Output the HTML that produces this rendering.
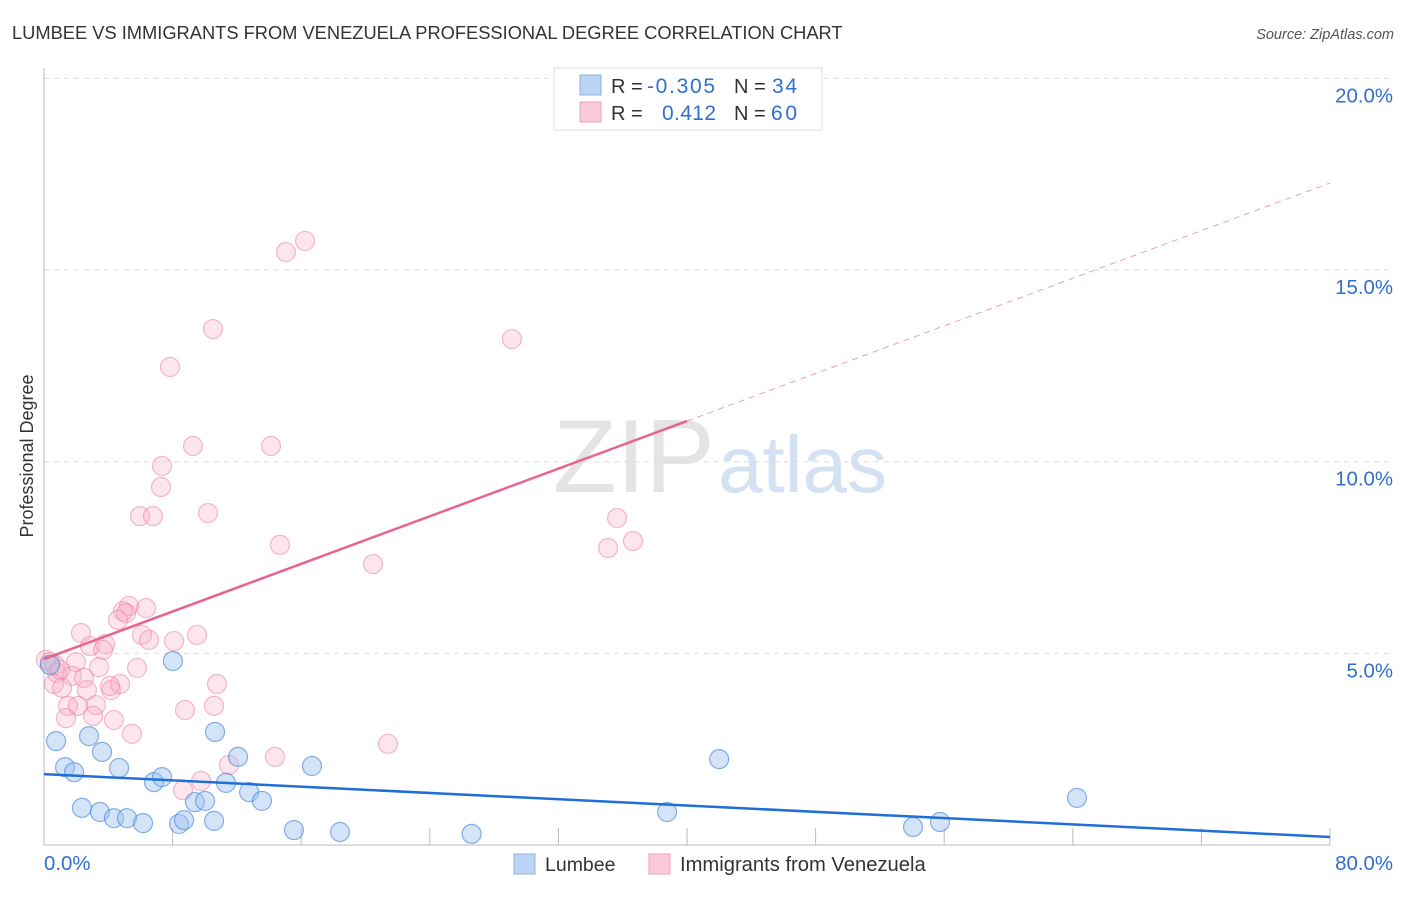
<!DOCTYPE html>
<html><head><meta charset="utf-8"><style>
body{margin:0;background:#fff;font-family:"Liberation Sans",sans-serif}
svg text{font-family:"Liberation Sans",sans-serif}
</style></head><body>
<svg id="chart" width="1406" height="892" xmlns="http://www.w3.org/2000/svg">
<text x="12" y="39" font-size="18.3" fill="#333">LUMBEE VS IMMIGRANTS FROM VENEZUELA PROFESSIONAL DEGREE CORRELATION CHART</text>
<text x="1394" y="39" font-size="14.5" fill="#555" text-anchor="end" font-style="italic">Source: ZipAtlas.com</text>
<text x="553" y="492" font-size="104" fill="#e4e4e4" font-family="Liberation Serif">ZIP</text>
<text x="718" y="492" font-size="80" fill="#d3e1f3">atlas</text>
<g id="grid"></g>
<g id="axes"></g>
<g id="marks"></g>
<text transform="translate(33,456) rotate(-90)" font-size="18" fill="#333" text-anchor="middle">Professional Degree</text>
<g>
<rect x="554" y="68" width="268" height="62" fill="#fff" stroke="#ddd"/>
<rect x="580" y="75" width="21" height="20" fill="#bcd4f3" stroke="#8ab0e6"/>
<rect x="580" y="102" width="21" height="20" fill="#fbcad8" stroke="#f0a2b8"/>
<text x="611" y="93" font-size="20" fill="#333">R =</text>
<text x="647" y="93" font-size="21" fill="#2f6fce" textLength="68">-0.305</text>
<text x="734" y="93" font-size="20" fill="#333">N =</text>
<text x="772" y="93" font-size="21" fill="#2f6fce" textLength="25">34</text>
<text x="611" y="120" font-size="20" fill="#333">R =</text>
<text x="662" y="120" font-size="21" fill="#2f6fce" textLength="54">0.412</text>
<text x="734" y="120" font-size="20" fill="#333">N =</text>
<text x="771" y="120" font-size="21" fill="#2f6fce" textLength="26">60</text>
</g>
<g>
<rect x="514" y="854" width="21" height="20" fill="#bcd4f3" stroke="#8ab0e6"/>
<text x="545" y="871" font-size="19.5" fill="#333">Lumbee</text>
<rect x="649" y="854" width="21" height="20" fill="#fbcad8" stroke="#f0a2b8"/>
<text x="680" y="871" font-size="20.2" fill="#333">Immigrants from Venezuela</text>
</g>
</svg>
<script>
const xTicks=[0,80];
const xTickLabels=["0.0%","80.0%"];
const yTicks=[5,10,15,20];
const yTickLabels=["5.0%","10.0%","15.0%","20.0%"];
const lumbeeX=[0.75,1.31,1.87,2.8,3.61,4.67,2.36,3.48,4.35,5.16,6.16,6.84,7.34,8.02,8.4,8.71,9.39,10.02,10.58,10.64,11.32,12.07,12.76,13.56,15.55,16.67,18.41,26.6,38.76,42.0,54.06,55.74,64.26,0.37];
const lumbeeY=[2.71,2.03,1.9,2.84,2.43,2.01,0.97,0.86,0.7,0.7,0.57,1.64,1.77,4.8,0.55,0.65,1.12,1.15,0.63,2.95,1.62,2.3,1.38,1.15,0.39,2.06,0.34,0.29,0.86,2.24,0.47,0.6,1.23,4.7];
const venX=[16.24,15.05,10.51,29.11,7.84,9.27,14.12,7.34,7.28,5.97,6.78,10.2,35.65,14.68,35.09,36.64,20.47,5.29,6.35,4.91,5.1,4.6,2.3,6.1,6.53,8.09,9.52,2.86,3.8,3.67,0.12,0.37,0.68,0.81,1.99,3.42,5.79,1.0,1.74,2.49,0.62,1.12,2.67,4.17,4.73,4.1,10.76,1.49,3.23,2.11,1.37,3.05,4.35,8.77,10.58,5.47,21.4,14.37,11.51,9.77,8.65];
const venY=[15.76,15.47,13.46,13.2,12.47,10.41,10.41,9.89,9.34,8.58,8.58,8.66,8.53,7.83,7.75,7.93,7.33,6.24,6.18,6.1,6.05,5.87,5.53,5.48,5.35,5.32,5.48,5.19,5.24,5.09,4.83,4.77,4.7,4.49,4.77,4.64,4.62,4.57,4.41,4.36,4.2,4.1,4.04,4.04,4.2,4.15,4.2,3.63,3.65,3.63,3.31,3.37,3.26,3.52,3.63,2.9,2.64,2.3,2.09,1.67,1.43];
const lumbeeTrend=[1.85,0.21];
const venTrend=[4.85,17.27];
const venSolidEnd=40;

const X0=44,X1=1330,Y0=845,PPY=38.33;
const sx=v=>X0+(v-xTicks[0])/(xTicks[1]-xTicks[0])*(X1-X0);
const sy=v=>Y0-v*PPY;
const NS="http://www.w3.org/2000/svg";
function mk(tag,attrs,parent){const e=document.createElementNS(NS,tag);for(const k in attrs)e.setAttribute(k,attrs[k]);parent.appendChild(e);return e;}
const grid=document.getElementById('grid'),axes=document.getElementById('axes'),marks=document.getElementById('marks');
yTicks.forEach((t,i)=>{
 const l=mk('line',{x1:X0,x2:1394,y1:sy(t),y2:sy(t),stroke:'#ddd','stroke-dasharray':'5,5'},grid);
 
 
 const tx=mk('text',{x:1393,y:sy(t)+24,'font-size':20.4,fill:'#2f6fce','text-anchor':'end'},axes);
 tx.textContent=yTickLabels[i];
 
 
});
const al=mk('line',{x1:X0,x2:X0,y1:68,y2:Y0,stroke:'#bbb'},axes);


const bl=mk('line',{x1:X0,x2:X1,y1:Y0,y2:Y0,stroke:'#bbb'},axes);


for(let k=1;k<=10;k++){const v=k*8;const t=mk('line',{x1:sx(v),x2:sx(v),y1:828,y2:Y0,stroke:'#bbb'},axes);
 
 }
xTicks.forEach((t,i)=>{const tx=mk('text',{x:i==0?44:1393,y:870,'font-size':20.4,fill:'#2f6fce','text-anchor':i==0?'start':'end'},axes);
 tx.textContent=xTickLabels[i];
 
 });
venX.forEach((x,i)=>{const c=mk('circle',{cx:sx(x),cy:sy(venY[i]),r:9.5,fill:'rgba(248,170,195,0.3)',stroke:'rgba(235,130,165,0.55)','stroke-width':1.2},marks);
 
 });
lumbeeX.forEach((x,i)=>{const c=mk('circle',{cx:sx(x),cy:sy(lumbeeY[i]),r:9.5,fill:'rgba(160,195,240,0.45)',stroke:'rgba(60,125,215,0.6)','stroke-width':1.2},marks);
 
 });
const vAt=x=>venTrend[0]+(venTrend[1]-venTrend[0])*x/80;
const p1=mk('line',{x1:sx(0),y1:sy(vAt(0)),x2:sx(venSolidEnd),y2:sy(vAt(venSolidEnd)),stroke:'#e8648e','stroke-width':2.5},marks);


const p2=mk('line',{x1:sx(venSolidEnd),y1:sy(vAt(venSolidEnd)),x2:sx(80),y2:sy(vAt(80)),stroke:'#e8a0b6','stroke-width':1,'stroke-dasharray':'6,5'},marks);


const b1=mk('line',{x1:sx(0),y1:sy(lumbeeTrend[0]),x2:sx(80),y2:sy(lumbeeTrend[1]),stroke:'#1f6fd6','stroke-width':2.5},marks);


</script>
</body></html>
